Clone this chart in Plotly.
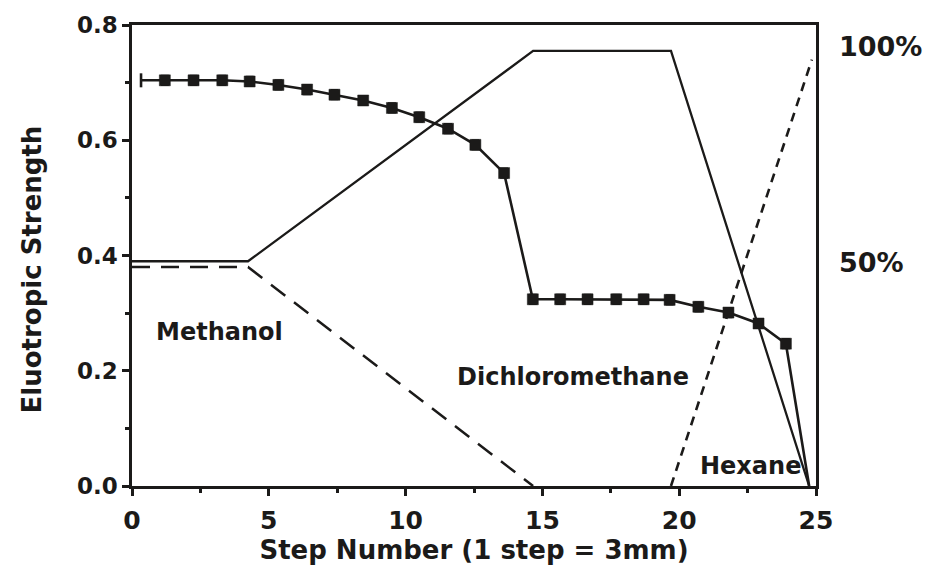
import plotly.graph_objects as go

# Eluotropic strength measured along the plate (step number, strength)
strength_x = [1.2, 2.25, 3.3, 4.3, 5.35, 6.4, 7.4, 8.45, 9.5, 10.5, 11.55, 12.55, 13.6,
              14.65, 15.65, 16.65, 17.7, 18.7, 19.65, 20.7, 21.8, 22.9, 23.9]
strength_y = [0.704, 0.704, 0.704, 0.702, 0.696, 0.688, 0.679, 0.669, 0.656, 0.640, 0.620, 0.592, 0.543,
              0.324, 0.324, 0.324, 0.324, 0.324, 0.323, 0.311, 0.301, 0.282, 0.247]
strength_err = [0.008] * len(strength_y)
strength_start = [0.33, 0.704]   # leading cap of the measured curve
strength_end = [24.75, 0.0]      # curve runs down to the plate end

# Solvent composition profiles (in eluotropic-strength units; 0.75 = 100 %)
dcm_x = [0, 4.24, 14.66, 19.7, 24.75]
dcm_y = [0.39, 0.39, 0.755, 0.755, 0.0]
methanol_x = [0, 4.24, 14.66]
methanol_y = [0.38, 0.38, 0.0]
hexane_x = [19.7, 24.85]
hexane_y = [0.0, 0.74]

x_ticks = [0, 5, 10, 15, 20, 25]
y_ticks = [0.0, 0.2, 0.4, 0.6, 0.8]
pct_ticks = [50, 100]
pct_labels = ["50%", "100%"]

solvent_labels = ["Methanol", "Dichloromethane", "Hexane"]
solvent_label_x = [3.18, 16.1, 22.62]
solvent_label_y = [0.267, 0.19, 0.035]

INK = "#1b1a19"
FONT = "DejaVu Sans"

fig = go.Figure()

fig.add_trace(go.Scatter(x=dcm_x, y=dcm_y, mode="lines",
                         line=dict(color=INK, width=2.3), showlegend=False))
fig.add_trace(go.Scatter(x=methanol_x, y=methanol_y, mode="lines",
                         line=dict(color=INK, width=2.5, dash="18px,11px"), showlegend=False))
fig.add_trace(go.Scatter(x=hexane_x, y=hexane_y, mode="lines",
                         line=dict(color=INK, width=2.6, dash="9px,7px"), showlegend=False))

# connecting line of the measured curve, from the start cap to the plate end
line_x = [strength_start[0]] + strength_x + [strength_end[0]]
line_y = [strength_start[1]] + strength_y + [strength_end[1]]
fig.add_trace(go.Scatter(x=line_x, y=line_y, mode="lines",
                         line=dict(color=INK, width=2.6), showlegend=False))
fig.add_trace(go.Scatter(x=[strength_start[0]], y=[strength_start[1]], mode="markers",
                         marker=dict(symbol="line-ns", size=10, line=dict(color=INK, width=2.6)),
                         showlegend=False))
fig.add_trace(go.Scatter(x=strength_x, y=strength_y, mode="markers",
                         marker=dict(symbol="square", size=11, color=INK,
                                     line=dict(color=INK, width=0.5)),
                         error_y=dict(type="data", array=strength_err, color=INK,
                                      thickness=2, width=4),
                         showlegend=False))

# invisible trace to activate the percentage axis on the right
fig.add_trace(go.Scatter(x=[0], y=[0], yaxis="y2", mode="markers",
                         marker=dict(opacity=0), showlegend=False, hoverinfo="skip"))

for text, tx, ty in zip(solvent_labels, solvent_label_x, solvent_label_y):
    fig.add_annotation(x=tx, y=ty, text=text, showarrow=False,
                       font=dict(family=FONT, size=24, color=INK, weight="bold"))

# vertical axis title, placed a little below the axis midpoint
fig.add_annotation(x=-0.146, y=0.47, xref="paper", yref="paper",
                   text="Eluotropic Strength", textangle=-90, showarrow=False,
                   xanchor="center", yanchor="middle",
                   font=dict(family=FONT, size=26, color=INK, weight="bold"))

fig.update_layout(
    width=940, height=565,
    margin=dict(l=132, r=124, t=15, b=74),
    paper_bgcolor="white", plot_bgcolor="white",
    font=dict(family=FONT, color=INK, weight="bold"),
    xaxis=dict(
        range=[0, 25], tickvals=x_ticks, ticktext=[str(v) for v in x_ticks],
        showline=True, linecolor=INK, linewidth=2.5, mirror=True,
        ticks="outside", ticklen=7, tickwidth=2.5, tickcolor=INK,
        minor=dict(dtick=2.5, ticks="outside", ticklen=4, tickwidth=2.5, tickcolor=INK),
        showgrid=False, zeroline=False,
        tickfont=dict(family=FONT, size=25, color=INK, weight="bold"),
        ticklabelstandoff=3,
        title=dict(text="Step Number (1 step = 3mm)", standoff=0,
                   font=dict(family=FONT, size=26, color=INK, weight="bold")),
    ),
    yaxis=dict(
        range=[0, 0.8], tickvals=y_ticks, ticktext=[f"{v:.1f}" for v in y_ticks],
        showline=True, linecolor=INK, linewidth=2.5, mirror=True,
        ticks="outside", ticklen=7, tickwidth=2.5, tickcolor=INK,
        minor=dict(dtick=0.1, ticks="outside", ticklen=4, tickwidth=2.5, tickcolor=INK),
        showgrid=False, zeroline=False,
        tickfont=dict(family=FONT, size=23, color=INK, weight="bold"),
    ),
    yaxis2=dict(
        overlaying="y", side="right", range=[0, 0.8 / 0.75 * 100],
        tickvals=pct_ticks, ticktext=pct_labels, ticks="", showline=False,
        showgrid=False, zeroline=False, ticklabelstandoff=22, ticklabelshift=-7,
        tickfont=dict(family=FONT, size=27, color=INK, weight="bold"),
    ),
)

fig.write_html("out.html")
